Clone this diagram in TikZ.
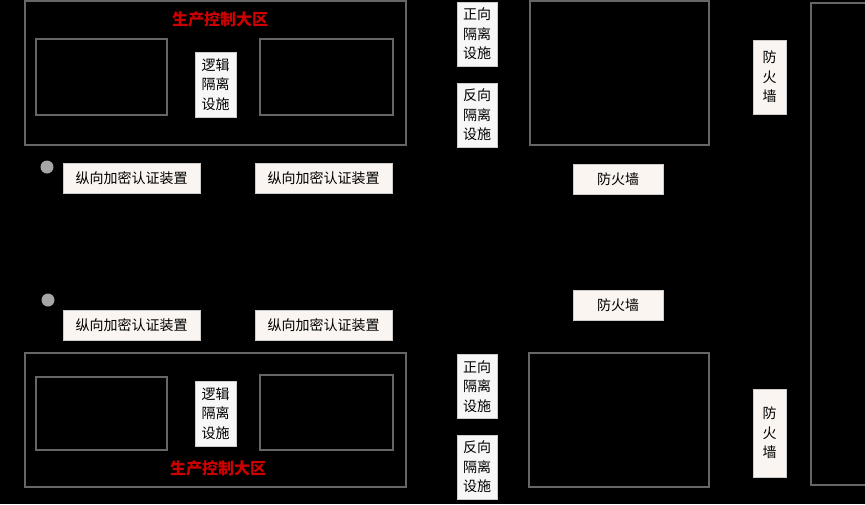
\documentclass[tikz,border=0pt]{standalone}
\usepackage{fontspec}
\newfontfamily\cjk{Noto Sans CJK SC}
\begin{document}
\begin{tikzpicture}[x=1pt,y=-1pt,
  zone/.style={draw=gray!80!black,line width=1.2pt},
  lab/.style={draw=gray!40,fill=#1,font=\cjk\fontsize{14}{19.5}\selectfont,inner sep=0pt,align=center},
  lab/.default={white!92!brown},
  dot/.style={circle,fill=gray!70,minimum size=13pt,inner sep=0pt},
  ttl/.style={text=red!80!black,font=\cjk\bfseries\fontsize{16}{18}\selectfont}]
\fill[black] (0,0) rectangle (865,504);
\useasboundingbox (0,0) rectangle (865,504);
% top zone
\draw[zone] (25,1) rectangle (406,145);
\node[ttl] (t1) at (220,19) {生产控制大区};
\draw[zone] (36,39) rectangle (167,115);
\draw[zone] (260,39) rectangle (393,115);
\node[lab=white!94!gray,minimum width=41pt,minimum height=65pt] (l1) at (215.5,84.5) {逻辑\\隔离\\设施};
\node[dot] (d1) at (47,167) {};
\node[lab,minimum width=137pt,minimum height=30pt] (e1) at (131.5,178) {纵向加密认证装置};
\node[lab,minimum width=137pt,minimum height=30pt] (e2) at (323.5,178) {纵向加密认证装置};
% bottom zone
\node[dot] (d2) at (48,300) {};
\node[lab,minimum width=137pt,minimum height=30pt] (e3) at (131.5,325) {纵向加密认证装置};
\node[lab,minimum width=137pt,minimum height=30pt] (e4) at (323.5,325) {纵向加密认证装置};
\draw[zone] (25,353) rectangle (406,487);
\draw[zone] (36,377) rectangle (167,450);
\draw[zone] (260,375) rectangle (393,450);
\node[lab=white!94!gray,minimum width=41pt,minimum height=65pt] (l2) at (215.5,413.5) {逻辑\\隔离\\设施};
\node[ttl] (t2) at (218,468) {生产控制大区};
% isolation devices
\node[lab=white!94!gray,minimum width=40pt,minimum height=64pt] (z1) at (477,34) {正向\\隔离\\设施};
\node[lab=white!94!gray,minimum width=40pt,minimum height=64pt] (f1) at (477,115) {反向\\隔离\\设施};
\node[lab=white!94!gray,minimum width=40pt,minimum height=64pt] (z2) at (477,386.5) {正向\\隔离\\设施};
\node[lab=white!94!gray,minimum width=40pt,minimum height=64pt] (f2) at (477,467) {反向\\隔离\\设施};
% right zones
\draw[zone] (530,1) rectangle (709,145);
\draw[zone] (529,353) rectangle (709,487);
\node[lab,minimum width=90pt,minimum height=30pt] (w1) at (618,179) {防火墙};
\node[lab,minimum width=90pt,minimum height=30pt] (w2) at (618,305) {防火墙};
\node[lab,minimum width=33pt,minimum height=74pt] (w3) at (769.5,77) {防\\火\\墙};
\node[lab,minimum width=33pt,minimum height=88pt] (w4) at (769.5,433) {防\\火\\墙};
\draw[zone] (811,3) rectangle (866,485);
\end{tikzpicture}
\end{document}
